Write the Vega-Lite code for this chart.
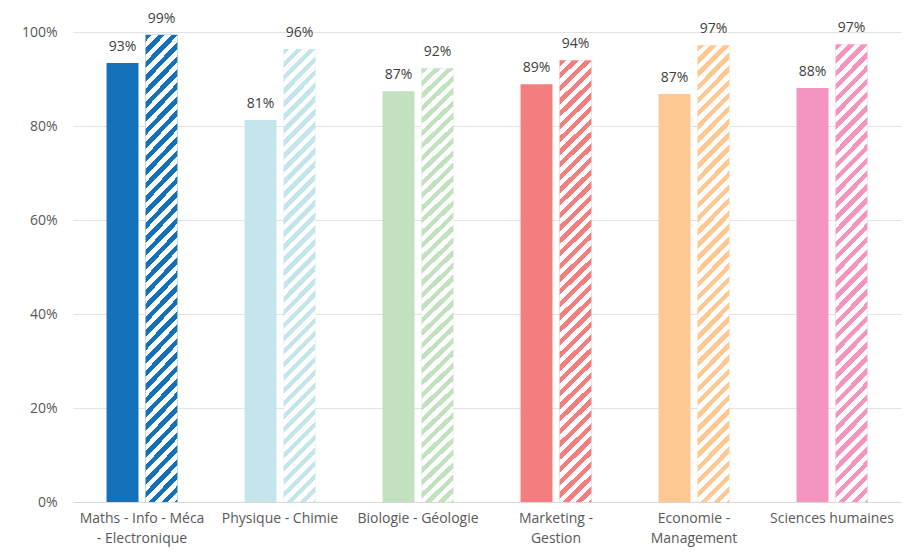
{
  "$schema": "https://vega.github.io/schema/vega-lite/v6.json",
  "width": 828,
  "height": 470,
  "autosize": "none",
  "padding": {"left": 73, "top": 32, "right": 11, "bottom": 57},
  "background": "white",
  "config": {
    "view": {"stroke": null},
    "font": "Open Sans",
    "axis": {"labelFont": "Open Sans", "labelFontSize": 14, "labelColor": "#595959"}
  },
  "data": {
    "values": [
      {"cat": "Maths - Info - Méca - Electronique", "serie": "Série 1", "value": 0.934},
      {"cat": "Maths - Info - Méca - Electronique", "serie": "Série 2", "value": 0.994},
      {"cat": "Physique - Chimie", "serie": "Série 1", "value": 0.813},
      {"cat": "Physique - Chimie", "serie": "Série 2", "value": 0.964},
      {"cat": "Biologie - Géologie", "serie": "Série 1", "value": 0.874},
      {"cat": "Biologie - Géologie", "serie": "Série 2", "value": 0.923},
      {"cat": "Marketing - Gestion", "serie": "Série 1", "value": 0.889},
      {"cat": "Marketing - Gestion", "serie": "Série 2", "value": 0.94},
      {"cat": "Economie - Management", "serie": "Série 1", "value": 0.868},
      {"cat": "Economie - Management", "serie": "Série 2", "value": 0.972},
      {"cat": "Sciences humaines", "serie": "Série 1", "value": 0.881},
      {"cat": "Sciences humaines", "serie": "Série 2", "value": 0.974}
    ]
  },
  "encoding": {
    "x": {
      "field": "cat", "type": "nominal", "sort": null, "title": null,
      "scale": {"paddingInner": 0.486, "paddingOuter": 0.243},
      "axis": {
        "labelAngle": 0, "ticks": false, "domainColor": "#D9D9D9", "domainWidth": 1,
        "labelPadding": 9, "labelLineHeight": 20, "labelLimit": 200,
        "labelExpr": "datum.label == 'Maths - Info - Méca - Electronique' ? ['Maths - Info - Méca', '- Electronique'] : datum.label == 'Marketing - Gestion' ? ['Marketing -', 'Gestion'] : datum.label == 'Economie - Management' ? ['Economie -', 'Management'] : datum.label"
      }
    },
    "xOffset": {"field": "serie", "type": "nominal", "scale": {"paddingInner": 0.18, "paddingOuter": 0}},
    "y": {
      "field": "value", "type": "quantitative", "title": null,
      "scale": {"domain": [0, 1], "nice": false},
      "axis": {"format": ".0%", "values": [0, 0.2, 0.4, 0.6, 0.8, 1], "ticks": false, "domain": false, "labelPadding": 16, "gridColor": "#E3E3E3", "gridWidth": 1}
    }
  },
  "layer": [
    {
      "mark": {"type": "bar"},
      "encoding": {
        "color": {
          "field": "cat", "type": "nominal", "sort": null, "legend": null,
          "scale": {"range": ["#1471B9", "#C4E5EC", "#C1E1BF", "#F37E80", "#FEC892", "#F495C0"]}
        }
      }
    },
    {
      "transform": [{"filter": "datum.serie == 'Série 2'"}],
      "mark": {
        "type": "bar",
        "fill": {
          "gradient": "linear", "x1": 0, "y1": 0, "x2": 0.081, "y2": 1.1447,
          "stops": [
            {"offset": 0, "color": "rgba(255,255,255,0)"}, {"offset": 0.0125, "color": "rgba(255,255,255,0)"},
            {"offset": 0.0125, "color": "#ffffff"}, {"offset": 0.025, "color": "#ffffff"},
            {"offset": 0.025, "color": "rgba(255,255,255,0)"}, {"offset": 0.0375, "color": "rgba(255,255,255,0)"},
            {"offset": 0.0375, "color": "#ffffff"}, {"offset": 0.05, "color": "#ffffff"},
            {"offset": 0.05, "color": "rgba(255,255,255,0)"}, {"offset": 0.0625, "color": "rgba(255,255,255,0)"},
            {"offset": 0.0625, "color": "#ffffff"}, {"offset": 0.075, "color": "#ffffff"},
            {"offset": 0.075, "color": "rgba(255,255,255,0)"}, {"offset": 0.0875, "color": "rgba(255,255,255,0)"},
            {"offset": 0.0875, "color": "#ffffff"}, {"offset": 0.1, "color": "#ffffff"},
            {"offset": 0.1, "color": "rgba(255,255,255,0)"}, {"offset": 0.1125, "color": "rgba(255,255,255,0)"},
            {"offset": 0.1125, "color": "#ffffff"}, {"offset": 0.125, "color": "#ffffff"},
            {"offset": 0.125, "color": "rgba(255,255,255,0)"}, {"offset": 0.1375, "color": "rgba(255,255,255,0)"},
            {"offset": 0.1375, "color": "#ffffff"}, {"offset": 0.15, "color": "#ffffff"},
            {"offset": 0.15, "color": "rgba(255,255,255,0)"}, {"offset": 0.1625, "color": "rgba(255,255,255,0)"},
            {"offset": 0.1625, "color": "#ffffff"}, {"offset": 0.175, "color": "#ffffff"},
            {"offset": 0.175, "color": "rgba(255,255,255,0)"}, {"offset": 0.1875, "color": "rgba(255,255,255,0)"},
            {"offset": 0.1875, "color": "#ffffff"}, {"offset": 0.2, "color": "#ffffff"},
            {"offset": 0.2, "color": "rgba(255,255,255,0)"}, {"offset": 0.2125, "color": "rgba(255,255,255,0)"},
            {"offset": 0.2125, "color": "#ffffff"}, {"offset": 0.225, "color": "#ffffff"},
            {"offset": 0.225, "color": "rgba(255,255,255,0)"}, {"offset": 0.2375, "color": "rgba(255,255,255,0)"},
            {"offset": 0.2375, "color": "#ffffff"}, {"offset": 0.25, "color": "#ffffff"},
            {"offset": 0.25, "color": "rgba(255,255,255,0)"}, {"offset": 0.2625, "color": "rgba(255,255,255,0)"},
            {"offset": 0.2625, "color": "#ffffff"}, {"offset": 0.275, "color": "#ffffff"},
            {"offset": 0.275, "color": "rgba(255,255,255,0)"}, {"offset": 0.2875, "color": "rgba(255,255,255,0)"},
            {"offset": 0.2875, "color": "#ffffff"}, {"offset": 0.3, "color": "#ffffff"},
            {"offset": 0.3, "color": "rgba(255,255,255,0)"}, {"offset": 0.3125, "color": "rgba(255,255,255,0)"},
            {"offset": 0.3125, "color": "#ffffff"}, {"offset": 0.325, "color": "#ffffff"},
            {"offset": 0.325, "color": "rgba(255,255,255,0)"}, {"offset": 0.3375, "color": "rgba(255,255,255,0)"},
            {"offset": 0.3375, "color": "#ffffff"}, {"offset": 0.35, "color": "#ffffff"},
            {"offset": 0.35, "color": "rgba(255,255,255,0)"}, {"offset": 0.3625, "color": "rgba(255,255,255,0)"},
            {"offset": 0.3625, "color": "#ffffff"}, {"offset": 0.375, "color": "#ffffff"},
            {"offset": 0.375, "color": "rgba(255,255,255,0)"}, {"offset": 0.3875, "color": "rgba(255,255,255,0)"},
            {"offset": 0.3875, "color": "#ffffff"}, {"offset": 0.4, "color": "#ffffff"},
            {"offset": 0.4, "color": "rgba(255,255,255,0)"}, {"offset": 0.4125, "color": "rgba(255,255,255,0)"},
            {"offset": 0.4125, "color": "#ffffff"}, {"offset": 0.425, "color": "#ffffff"},
            {"offset": 0.425, "color": "rgba(255,255,255,0)"}, {"offset": 0.4375, "color": "rgba(255,255,255,0)"},
            {"offset": 0.4375, "color": "#ffffff"}, {"offset": 0.45, "color": "#ffffff"},
            {"offset": 0.45, "color": "rgba(255,255,255,0)"}, {"offset": 0.4625, "color": "rgba(255,255,255,0)"},
            {"offset": 0.4625, "color": "#ffffff"}, {"offset": 0.475, "color": "#ffffff"},
            {"offset": 0.475, "color": "rgba(255,255,255,0)"}, {"offset": 0.4875, "color": "rgba(255,255,255,0)"},
            {"offset": 0.4875, "color": "#ffffff"}, {"offset": 0.5, "color": "#ffffff"},
            {"offset": 0.5, "color": "rgba(255,255,255,0)"}, {"offset": 0.5125, "color": "rgba(255,255,255,0)"},
            {"offset": 0.5125, "color": "#ffffff"}, {"offset": 0.525, "color": "#ffffff"},
            {"offset": 0.525, "color": "rgba(255,255,255,0)"}, {"offset": 0.5375, "color": "rgba(255,255,255,0)"},
            {"offset": 0.5375, "color": "#ffffff"}, {"offset": 0.55, "color": "#ffffff"},
            {"offset": 0.55, "color": "rgba(255,255,255,0)"}, {"offset": 0.5625, "color": "rgba(255,255,255,0)"},
            {"offset": 0.5625, "color": "#ffffff"}, {"offset": 0.575, "color": "#ffffff"},
            {"offset": 0.575, "color": "rgba(255,255,255,0)"}, {"offset": 0.5875, "color": "rgba(255,255,255,0)"},
            {"offset": 0.5875, "color": "#ffffff"}, {"offset": 0.6, "color": "#ffffff"},
            {"offset": 0.6, "color": "rgba(255,255,255,0)"}, {"offset": 0.6125, "color": "rgba(255,255,255,0)"},
            {"offset": 0.6125, "color": "#ffffff"}, {"offset": 0.625, "color": "#ffffff"},
            {"offset": 0.625, "color": "rgba(255,255,255,0)"}, {"offset": 0.6375, "color": "rgba(255,255,255,0)"},
            {"offset": 0.6375, "color": "#ffffff"}, {"offset": 0.65, "color": "#ffffff"},
            {"offset": 0.65, "color": "rgba(255,255,255,0)"}, {"offset": 0.6625, "color": "rgba(255,255,255,0)"},
            {"offset": 0.6625, "color": "#ffffff"}, {"offset": 0.675, "color": "#ffffff"},
            {"offset": 0.675, "color": "rgba(255,255,255,0)"}, {"offset": 0.6875, "color": "rgba(255,255,255,0)"},
            {"offset": 0.6875, "color": "#ffffff"}, {"offset": 0.7, "color": "#ffffff"},
            {"offset": 0.7, "color": "rgba(255,255,255,0)"}, {"offset": 0.7125, "color": "rgba(255,255,255,0)"},
            {"offset": 0.7125, "color": "#ffffff"}, {"offset": 0.725, "color": "#ffffff"},
            {"offset": 0.725, "color": "rgba(255,255,255,0)"}, {"offset": 0.7375, "color": "rgba(255,255,255,0)"},
            {"offset": 0.7375, "color": "#ffffff"}, {"offset": 0.75, "color": "#ffffff"},
            {"offset": 0.75, "color": "rgba(255,255,255,0)"}, {"offset": 0.7625, "color": "rgba(255,255,255,0)"},
            {"offset": 0.7625, "color": "#ffffff"}, {"offset": 0.775, "color": "#ffffff"},
            {"offset": 0.775, "color": "rgba(255,255,255,0)"}, {"offset": 0.7875, "color": "rgba(255,255,255,0)"},
            {"offset": 0.7875, "color": "#ffffff"}, {"offset": 0.8, "color": "#ffffff"},
            {"offset": 0.8, "color": "rgba(255,255,255,0)"}, {"offset": 0.8125, "color": "rgba(255,255,255,0)"},
            {"offset": 0.8125, "color": "#ffffff"}, {"offset": 0.825, "color": "#ffffff"},
            {"offset": 0.825, "color": "rgba(255,255,255,0)"}, {"offset": 0.8375, "color": "rgba(255,255,255,0)"},
            {"offset": 0.8375, "color": "#ffffff"}, {"offset": 0.85, "color": "#ffffff"},
            {"offset": 0.85, "color": "rgba(255,255,255,0)"}, {"offset": 0.8625, "color": "rgba(255,255,255,0)"},
            {"offset": 0.8625, "color": "#ffffff"}, {"offset": 0.875, "color": "#ffffff"},
            {"offset": 0.875, "color": "rgba(255,255,255,0)"}, {"offset": 0.8875, "color": "rgba(255,255,255,0)"},
            {"offset": 0.8875, "color": "#ffffff"}, {"offset": 0.9, "color": "#ffffff"},
            {"offset": 0.9, "color": "rgba(255,255,255,0)"}, {"offset": 0.9125, "color": "rgba(255,255,255,0)"},
            {"offset": 0.9125, "color": "#ffffff"}, {"offset": 0.925, "color": "#ffffff"},
            {"offset": 0.925, "color": "rgba(255,255,255,0)"}, {"offset": 0.9375, "color": "rgba(255,255,255,0)"},
            {"offset": 0.9375, "color": "#ffffff"}, {"offset": 0.95, "color": "#ffffff"},
            {"offset": 0.95, "color": "rgba(255,255,255,0)"}, {"offset": 0.9625, "color": "rgba(255,255,255,0)"},
            {"offset": 0.9625, "color": "#ffffff"}, {"offset": 0.975, "color": "#ffffff"},
            {"offset": 0.975, "color": "rgba(255,255,255,0)"}, {"offset": 0.9875, "color": "rgba(255,255,255,0)"},
            {"offset": 0.9875, "color": "#ffffff"}, {"offset": 1, "color": "#ffffff"}
          ]
        }
      }
    },
    {
      "mark": {"type": "text", "baseline": "alphabetic", "dy": -12, "fontSize": 14, "color": "#404040", "font": "Open Sans"},
      "encoding": {
        "text": {"field": "value", "type": "quantitative", "format": ".0%"}
      }
    }
  ]
}
